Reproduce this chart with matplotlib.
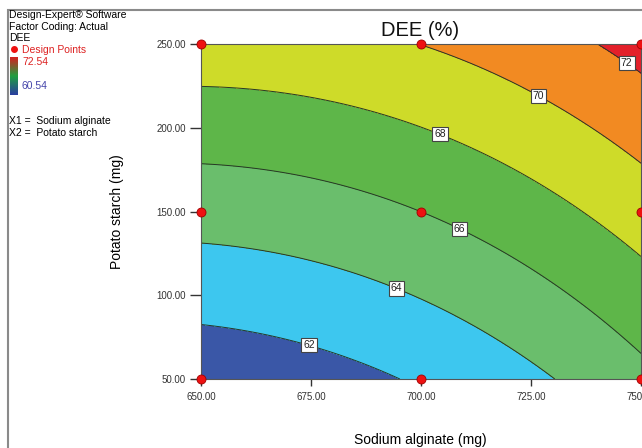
import numpy as np
import matplotlib
matplotlib.use("Agg")
import matplotlib.pyplot as plt
from matplotlib.colors import LinearSegmentedColormap
from matplotlib.patches import Rectangle
from matplotlib.lines import Line2D

plt.rcParams['font.family'] = ['Liberation Sans', 'DejaVu Sans']

# design points (mg) and DEE (%)
alginate = [650, 700, 750, 650, 700, 750, 650, 700, 750]
starch = [50, 50, 50, 150, 150, 150, 250, 250, 250]
dee = [60.6, 62.3, 65.5, 64.9, 66.0, 68.85, 69.1, 69.95, 72.75]
dee_range = [60.54, 72.54]

fill_levels = [50, 62, 64, 66, 68, 70, 72, 80]
fill_colors = ['#3a57a7', '#3dc7ef', '#6abe6c', '#5eb649', '#cedb29', '#f28a22', '#e3202a']
line_levels = [62, 64, 66, 68, 70, 72]
x_ticks = [650, 675, 700, 725, 750]
y_ticks = [50, 100, 150, 200, 250]

W, H = 642, 448


def px(x, y):
    return x / W, 1 - y / H


# quadratic response surface in coded units
A = (np.array(alginate) - 700) / 50.0
B = (np.array(starch) - 150) / 100.0
X = np.column_stack([np.ones_like(A), A, B, A * B, A**2, B**2])
coef = np.linalg.lstsq(X, np.array(dee), rcond=None)[0]

gx = np.linspace(650, 750, 201)
gy = np.linspace(50, 250, 201)
GX, GY = np.meshgrid(gx, gy)
ga = (GX - 700) / 50.0
gb = (GY - 150) / 100.0
Z = coef[0] + coef[1]*ga + coef[2]*gb + coef[3]*ga*gb + coef[4]*ga**2 + coef[5]*gb**2

fig = plt.figure(figsize=(W / 100, H / 100), dpi=100)
ax = fig.add_axes([201 / W, 69 / H, 440 / W, 335 / H])

ax.contourf(GX, GY, Z, levels=fill_levels, colors=fill_colors)
cs = ax.contour(GX, GY, Z, levels=line_levels, colors='#263626', linewidths=0.7)

# label spots (data coords)
spots = [(675, 74.5), (695, 108), (709.5, 143.7), (705, 200.4), (727.7, 223.7), (748, 243.4)]
labels = ax.clabel(cs, fmt='%d', fontsize=7.5, inline=False, manual=spots, colors='#222222')
for t in labels:
    t.set_rotation(0)
    t.set_bbox(dict(boxstyle='square,pad=0.2', fc='white', ec='#444444', lw=0.8))

ax.plot(alginate, starch, 'o', ms=6.5, mfc='#ee1111', mec='#a00000', mew=0.6,
        clip_on=False, zorder=6)

ax.set_xlim(650, 750)
ax.set_ylim(50, 250)
ax.set_xticks(x_ticks)
ax.set_xticklabels(['%.2f' % v for v in x_ticks])
ax.set_yticks(y_ticks)
ax.set_yticklabels(['%.2f' % v for v in y_ticks])
ax.tick_params(axis='x', direction='out', length=5, width=1, pad=4, labelsize=7,
               colors='#333333')
ax.tick_params(axis='y', direction='out', length=8, width=1, pad=3, labelsize=7,
               colors='#333333')
for s in ax.spines.values():
    s.set_color('#555555')
    s.set_linewidth(0.8)

# titles
fig.text(*px(420, 30), 'DEE (%)', fontsize=14.5, ha='center', va='center', color='#111111')
fig.text(*px(420, 440), 'Sodium alginate (mg)', fontsize=10, ha='center', va='center')
fig.text(*px(117, 212), 'Potato starch (mg)', fontsize=10, ha='center', va='center',
         rotation=90)

# outer frame
fig.add_artist(Rectangle(px(8, 500), 1, 490 / H, transform=fig.transFigure,
                         fill=False, edgecolor='#8a8a8a', lw=1.5))

# legend block
fs = 7.5
fig.text(*px(9, 15), 'Design-Expert\u00ae Software', fontsize=fs, va='center')
fig.text(*px(9, 27), 'Factor Coding: Actual', fontsize=fs, va='center')
fig.text(*px(9, 38), 'DEE', fontsize=fs, va='center')
fig.add_artist(Line2D([14 / W], [1 - 49 / H], marker='o', ms=4, color='#ee1111',
                      transform=fig.transFigure))
fig.text(*px(22, 50), 'Design Points', fontsize=fs, va='center', color='#dd2222')
fig.text(*px(22, 62), '%.2f' % dee_range[1], fontsize=fs, va='center', color='#dd2222')
fig.text(*px(22, 86), '%.2f' % dee_range[0], fontsize=fs, va='center', color='#4444aa')

cax = fig.add_axes([10 / W, 1 - 95 / H, 8 / W, 38 / H])
cmap = LinearSegmentedColormap.from_list('dee', ['#2a3ea0', '#20a040', '#d42020'])
cax.imshow(np.linspace(0, 1, 64)[:, None], cmap=cmap, aspect='auto', origin='lower')
cax.axis('off')

fig.text(*px(9, 121), 'X1 =  Sodium alginate', fontsize=fs, va='center')
fig.text(*px(9, 133), 'X2 =  Potato starch', fontsize=fs, va='center')

fig.savefig('out.png', dpi=100)
